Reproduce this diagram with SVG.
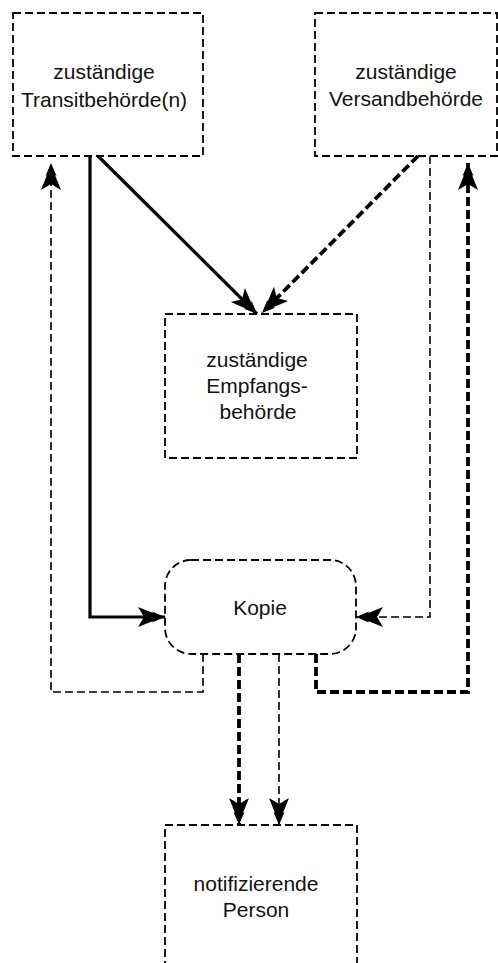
<svg xmlns="http://www.w3.org/2000/svg" width="498" height="963" viewBox="0 0 498 963">
<style>
.box{fill:#fff;stroke:#000;stroke-width:1.8;stroke-dasharray:8 4}
.lbl{font-family:"Liberation Sans",Arial,sans-serif;font-size:21px;fill:#111;text-anchor:middle}
.solid{fill:none;stroke:#000;stroke-width:3.2}
.thin{fill:none;stroke:#000;stroke-width:1.6;stroke-dasharray:8 4}
.thick{fill:none;stroke:#000;stroke-width:3.8;stroke-dasharray:9 4}
</style>
<defs>
<marker id="ah" markerUnits="userSpaceOnUse" markerWidth="40" markerHeight="30" refX="0" refY="0" orient="auto" overflow="visible" style="overflow:visible">
<path d="M0,0 L-13,-5.5 L-12,-4 L-27,-10 L-21,0 L-27,10 L-12,4 L-13,5.5 Z" fill="#000"/>
</marker>
</defs>
<rect width="498" height="963" fill="#fff"/>
<g id="transit">
<rect class="box" x="13" y="13" width="190" height="143"/>
<text class="lbl" x="104" y="79">zuständige</text>
<text class="lbl" x="104" y="107">Transitbehörde(n)</text>
</g>
<g id="versand">
<rect class="box" x="315" y="13" width="182" height="143"/>
<text class="lbl" x="406" y="79">zuständige</text>
<text class="lbl" x="406" y="106">Versandbehörde</text>
</g>
<g id="empfang">
<rect class="box" x="165" y="314" width="192" height="144"/>
<text class="lbl" x="257" y="367">zuständige</text>
<text class="lbl" x="257" y="393">Empfangs-</text>
<text class="lbl" x="258" y="419">behörde</text>
</g>
<g id="kopie">
<rect class="box" x="165" y="560" width="191" height="94" rx="26" ry="26"/>
<text class="lbl" x="260" y="615">Kopie</text>
</g>
<g id="notif">
<rect class="box" x="165" y="825" width="192" height="144"/>
<text class="lbl" x="256" y="891">notifizierende</text>
<text class="lbl" x="256" y="917">Person</text>
</g>
<g id="connectors">
<path class="solid" d="M90,156 L90,617 L165,617" marker-end="url(#ah)"/>
<path class="solid" d="M98,156 L257,314" marker-end="url(#ah)"/>
<path class="thick" d="M418,156 L262,313" marker-end="url(#ah)"/>
<path class="thin" d="M430,156 L430,617 L356,617" marker-end="url(#ah)"/>
<path class="thin" d="M203,654 L203,692 L51,692 L51,163" marker-end="url(#ah)"/>
<path class="thick" d="M316,654 L316,692 L468,692 L468,163" marker-end="url(#ah)"/>
<path class="thick" d="M239,654 L239,825" marker-end="url(#ah)"/>
<path class="thin" d="M279,654 L279,825" marker-end="url(#ah)"/>
</g>
</svg>
